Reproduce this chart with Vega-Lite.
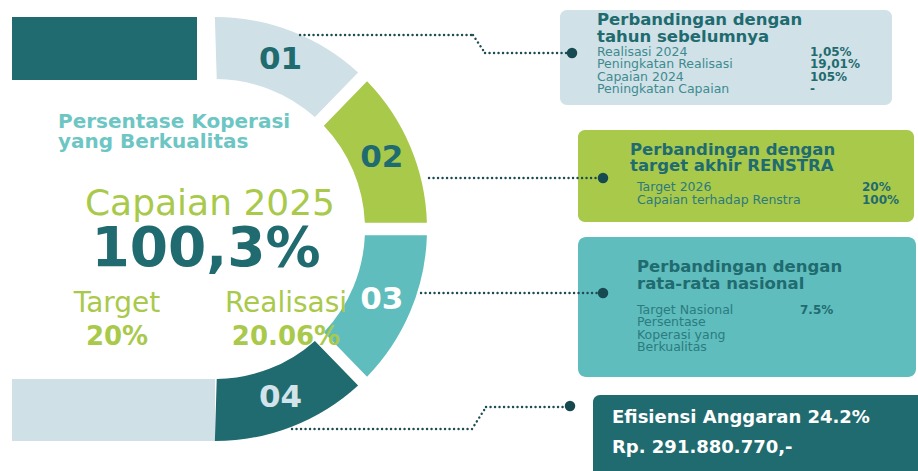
{
  "$schema": "https://vega.github.io/schema/vega-lite/v6.json",
  "width": 918,
  "height": 471,
  "padding": 0,
  "autosize": "none",
  "background": "#ffffff",
  "config": {"view": {"stroke": null}, "text": {"font": "DejaVu Sans"}},
  "layer": [
    {"data": {"values": [{"part": "top"}]}, "mark": {"type": "rect", "x": 12, "x2": 197, "y": 17, "y2": 80, "color": "#1f6b6f"}, "encoding": {}},
    {"data": {"values": [{"part": "bottom"}]}, "mark": {"type": "rect", "x": 12, "x2": 215, "y": 379, "y2": 441, "color": "#cfe0e7"}, "encoding": {}},
    {
      "data": {"values": [
        {"seg": "01", "share": 1},
        {"seg": "02", "share": 1},
        {"seg": "03", "share": 1},
        {"seg": "04", "share": 1}
      ]},
      "encoding": {
        "theta": {"field": "share", "type": "quantitative", "stack": true, "scale": {"domain": [0, 4], "range": [-0.03, 3.1716]}},
        "order": {"field": "seg", "sort": "ascending"}
      },
      "layer": [
        {
          "mark": {"type": "arc", "x": 215, "y": 229, "outerRadius": 212, "innerRadius": 150, "padAngle": 0.048},
          "encoding": {"color": {"field": "seg", "type": "nominal", "scale": {"domain": ["01", "02", "03", "04"], "range": ["#cfe0e7", "#a9c94b", "#5fbdbd", "#1f6b6f"]}, "legend": null}}
        },
        {
          "mark": {"type": "text", "x": 215, "y": 229, "radius": 181, "fontSize": 31, "fontWeight": "bold", "align": "center", "baseline": "middle"},
          "encoding": {
            "text": {"field": "seg", "type": "nominal"},
            "color": {"field": "seg", "type": "nominal", "scale": {"domain": ["01", "02", "03", "04"], "range": ["#1f6b6f", "#1f6b6f", "#ffffff", "#d3e3ea"]}, "legend": null}
          }
        }
      ],
      "resolve": {"scale": {"color": "independent"}}
    },
    {"data": {"values": [{"t": ["Persentase Koperasi", "yang Berkualitas"]}]}, "mark": {"type": "text", "x": 58, "y": 128, "align": "left", "baseline": "alphabetic", "fontSize": 20, "fontWeight": "bold", "lineHeight": 19.5, "color": "#6dc6c4"}, "encoding": {"text": {"field": "t", "type": "nominal"}}},
    {"data": {"values": [{"t": "Capaian 2025"}]}, "mark": {"type": "text", "x": 210, "y": 215, "align": "center", "baseline": "alphabetic", "fontSize": 36, "color": "#a9c94b"}, "encoding": {"text": {"field": "t", "type": "nominal"}}},
    {"data": {"values": [{"t": "100,3%"}]}, "mark": {"type": "text", "x": 206, "y": 266, "align": "center", "baseline": "alphabetic", "fontSize": 55, "fontWeight": "bold", "color": "#1f6b6f"}, "encoding": {"text": {"field": "t", "type": "nominal"}}},
    {
      "data": {"values": [{"k": "Target", "v": "20%"}, {"k": "Realisasi", "v": "20.06%"}]},
      "encoding": {"x": {"field": "k", "type": "nominal", "scale": {"type": "point", "domain": ["Target", "Realisasi"], "range": [117, 286], "padding": 0}, "axis": null}},
      "layer": [
        {"mark": {"type": "text", "y": 312, "align": "center", "baseline": "alphabetic", "fontSize": 28, "color": "#a9c94b"}, "encoding": {"text": {"field": "k", "type": "nominal"}}},
        {"mark": {"type": "text", "y": 345, "align": "center", "baseline": "alphabetic", "fontSize": 26, "fontWeight": "bold", "color": "#a9c94b"}, "encoding": {"text": {"field": "v", "type": "nominal"}}}
      ]
    },
    {"data": {"values": [{"box": "01"}]}, "mark": {"type": "rect", "x": 560, "x2": 892, "y": 10, "y2": 105, "cornerRadius": 7, "color": "#d0e1e8"}, "encoding": {}},
    {"data": {"values": [{"box": "02"}]}, "mark": {"type": "rect", "x": 578, "x2": 914, "y": 130, "y2": 222, "cornerRadius": 7, "color": "#a9c94b"}, "encoding": {}},
    {"data": {"values": [{"box": "03"}]}, "mark": {"type": "rect", "x": 578, "x2": 916, "y": 237, "y2": 377, "cornerRadius": 8, "color": "#5fbdbd"}, "encoding": {}},
    {"data": {"values": [{"box": "04"}]}, "mark": {"type": "rect", "x": 593, "x2": 940, "y": 395, "y2": 490, "cornerRadius": 7, "color": "#1f6b6f"}, "encoding": {}},
    {"data": {"values": [{"link": "01"}]}, "mark": {"type": "rule", "color": "#1d4d53", "strokeWidth": 2.4, "strokeDash": [0.1, 4.4], "strokeCap": "round"}, "encoding": {"x": {"value": 300}, "y": {"value": 35}, "x2": {"value": 473}, "y2": {"value": 35}}},
    {"data": {"values": [{"link": "01"}]}, "mark": {"type": "rule", "color": "#1d4d53", "strokeWidth": 2.4, "strokeDash": [0.1, 4.4], "strokeCap": "round"}, "encoding": {"x": {"value": 473}, "y": {"value": 35}, "x2": {"value": 485}, "y2": {"value": 53}}},
    {"data": {"values": [{"link": "01"}]}, "mark": {"type": "rule", "color": "#1d4d53", "strokeWidth": 2.4, "strokeDash": [0.1, 4.4], "strokeCap": "round"}, "encoding": {"x": {"value": 485}, "y": {"value": 53}, "x2": {"value": 568}, "y2": {"value": 53}}},
    {"data": {"values": [{"link": "02"}]}, "mark": {"type": "rule", "color": "#1d4d53", "strokeWidth": 2.4, "strokeDash": [0.1, 4.4], "strokeCap": "round"}, "encoding": {"x": {"value": 429}, "y": {"value": 178}, "x2": {"value": 600}, "y2": {"value": 178}}},
    {"data": {"values": [{"link": "03"}]}, "mark": {"type": "rule", "color": "#1d4d53", "strokeWidth": 2.4, "strokeDash": [0.1, 4.4], "strokeCap": "round"}, "encoding": {"x": {"value": 421}, "y": {"value": 293}, "x2": {"value": 600}, "y2": {"value": 293}}},
    {"data": {"values": [{"link": "04"}]}, "mark": {"type": "rule", "color": "#1d4d53", "strokeWidth": 2.4, "strokeDash": [0.1, 4.4], "strokeCap": "round"}, "encoding": {"x": {"value": 292}, "y": {"value": 429}, "x2": {"value": 472}, "y2": {"value": 429}}},
    {"data": {"values": [{"link": "04"}]}, "mark": {"type": "rule", "color": "#1d4d53", "strokeWidth": 2.4, "strokeDash": [0.1, 4.4], "strokeCap": "round"}, "encoding": {"x": {"value": 472}, "y": {"value": 429}, "x2": {"value": 486}, "y2": {"value": 407}}},
    {"data": {"values": [{"link": "04"}]}, "mark": {"type": "rule", "color": "#1d4d53", "strokeWidth": 2.4, "strokeDash": [0.1, 4.4], "strokeCap": "round"}, "encoding": {"x": {"value": 486}, "y": {"value": 407}, "x2": {"value": 566}, "y2": {"value": 407}}},
    {"data": {"values": [{"dot": "01"}]}, "mark": {"type": "circle", "x": 572, "y": 53, "size": 110, "opacity": 1, "color": "#174a50"}, "encoding": {}},
    {"data": {"values": [{"dot": "02"}]}, "mark": {"type": "circle", "x": 603, "y": 178, "size": 110, "opacity": 1, "color": "#174a50"}, "encoding": {}},
    {"data": {"values": [{"dot": "03"}]}, "mark": {"type": "circle", "x": 603, "y": 293, "size": 110, "opacity": 1, "color": "#174a50"}, "encoding": {}},
    {"data": {"values": [{"dot": "04"}]}, "mark": {"type": "circle", "x": 570, "y": 406, "size": 110, "opacity": 1, "color": "#174a50"}, "encoding": {}},
    {"data": {"values": [{"t": ["Perbandingan dengan", "tahun sebelumnya"]}]}, "mark": {"type": "text", "x": 597, "y": 25, "align": "left", "baseline": "alphabetic", "fontSize": 16.5, "fontWeight": "bold", "lineHeight": 16.5, "color": "#1f6b6f"}, "encoding": {"text": {"field": "t", "type": "nominal"}}},
    {
      "data": {"values": [
        {"label": "Realisasi 2024", "value": "1,05%"},
        {"label": "Peningkatan Realisasi", "value": "19,01%"},
        {"label": "Capaian 2024", "value": "105%"},
        {"label": "Peningkatan Capaian", "value": "-"}
      ]},
      "encoding": {"y": {"field": "label", "type": "nominal", "sort": null, "scale": {"type": "point", "range": [56, 93], "padding": 0}, "axis": null}},
      "layer": [
        {"mark": {"type": "text", "x": 597, "align": "left", "baseline": "alphabetic", "fontSize": 12.5, "color": "#3d8b8f"}, "encoding": {"text": {"field": "label", "type": "nominal"}}},
        {"mark": {"type": "text", "x": 810, "align": "left", "baseline": "alphabetic", "fontSize": 12, "fontWeight": "bold", "color": "#1f6b6f"}, "encoding": {"text": {"field": "value", "type": "nominal"}}}
      ]
    },
    {"data": {"values": [{"t": ["Perbandingan dengan", "target akhir RENSTRA"]}]}, "mark": {"type": "text", "x": 630, "y": 155, "align": "left", "baseline": "alphabetic", "fontSize": 16.5, "fontWeight": "bold", "lineHeight": 16, "color": "#1f6b6f"}, "encoding": {"text": {"field": "t", "type": "nominal"}}},
    {
      "data": {"values": [
        {"label": "Target 2026", "value": "20%"},
        {"label": "Capaian terhadap Renstra", "value": "100%"}
      ]},
      "encoding": {"y": {"field": "label", "type": "nominal", "sort": null, "scale": {"type": "point", "range": [191, 204], "padding": 0}, "axis": null}},
      "layer": [
        {"mark": {"type": "text", "x": 637, "align": "left", "baseline": "alphabetic", "fontSize": 12.5, "color": "#2c7a7d"}, "encoding": {"text": {"field": "label", "type": "nominal"}}},
        {"mark": {"type": "text", "x": 862, "align": "left", "baseline": "alphabetic", "fontSize": 12, "fontWeight": "bold", "color": "#1f6b6f"}, "encoding": {"text": {"field": "value", "type": "nominal"}}}
      ]
    },
    {"data": {"values": [{"t": ["Perbandingan dengan", "rata-rata nasional"]}]}, "mark": {"type": "text", "x": 637, "y": 272, "align": "left", "baseline": "alphabetic", "fontSize": 16.5, "fontWeight": "bold", "lineHeight": 16.5, "color": "#1f6b6f"}, "encoding": {"text": {"field": "t", "type": "nominal"}}},
    {
      "data": {"values": [
        {"label": "Target  Nasional", "value": "7.5%"},
        {"label": "Persentase", "value": ""},
        {"label": "Koperasi yang", "value": ""},
        {"label": "Berkualitas", "value": ""}
      ]},
      "encoding": {"y": {"field": "label", "type": "nominal", "sort": null, "scale": {"type": "point", "range": [314, 351], "padding": 0}, "axis": null}},
      "layer": [
        {"mark": {"type": "text", "x": 637, "align": "left", "baseline": "alphabetic", "fontSize": 12.5, "color": "#2a7c7f"}, "encoding": {"text": {"field": "label", "type": "nominal"}}},
        {"mark": {"type": "text", "x": 800, "align": "left", "baseline": "alphabetic", "fontSize": 12, "fontWeight": "bold", "color": "#1f6b6f"}, "encoding": {"text": {"field": "value", "type": "nominal"}}}
      ]
    },
    {
      "data": {"values": [
        {"label": "Efisiensi Anggaran  24.2%"},
        {"label": "Rp.  291.880.770,-"}
      ]},
      "mark": {"type": "text", "x": 612, "align": "left", "baseline": "alphabetic", "fontSize": 18, "fontWeight": "bold", "color": "#ffffff"},
      "encoding": {
        "y": {"field": "label", "type": "nominal", "sort": null, "scale": {"type": "point", "range": [423, 453], "padding": 0}, "axis": null},
        "text": {"field": "label", "type": "nominal"}
      }
    }
  ],
  "resolve": {"scale": {"x": "independent", "y": "independent", "color": "independent"}}
}
